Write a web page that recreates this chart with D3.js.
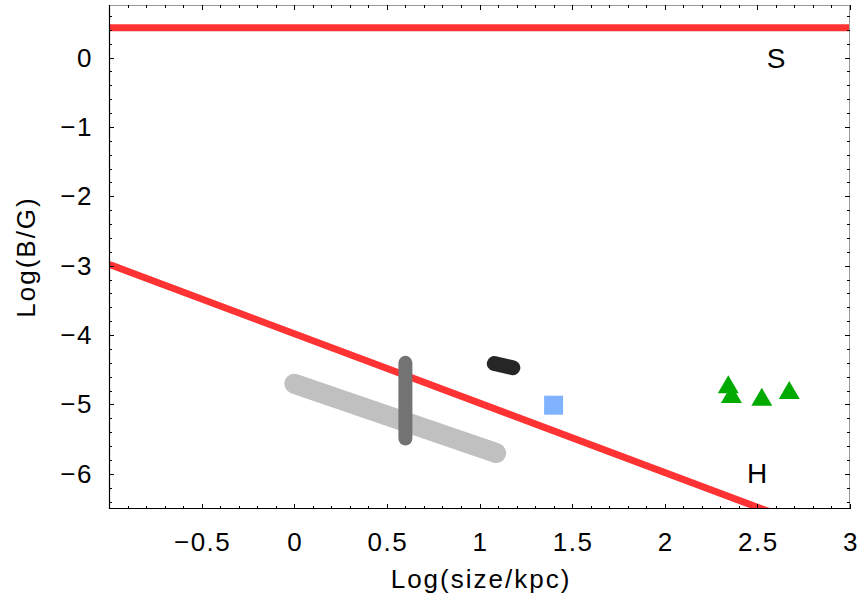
<!DOCTYPE html>
<html><head><meta charset="utf-8">
<script src="https://cdn.jsdelivr.net/npm/d3@7"></script>
<style>
html,body{margin:0;padding:0;background:#fff;}
text{font-family:"Liberation Sans",Arial,Helvetica,sans-serif;fill:#000;}
</style></head>
<body>
<svg id="c" width="864" height="604"></svg>
<script>
// ---- data ----
const xMajorTicks = [-0.5, 0, 0.5, 1, 1.5, 2, 2.5, 3];
const xTickLabels = ["\u22120.5", "0", "0.5", "1", "1.5", "2", "2.5", "3"];
const yMajorTicks = [0, -1, -2, -3, -4, -5, -6];
const yTickLabels = ["0", "\u22121", "\u22122", "\u22123", "\u22124", "\u22125", "\u22126"];
const sLineX = [-1, 3];
const sLineY = [0.43, 0.43];
const hLineX = [-0.99, 2.56];
const hLineY = [-2.99, -6.54];
const bandX = [0.0, 1.09];
const bandY = [-4.70, -5.70];
const barX = [0.60, 0.60];
const barY = [-4.40, -5.49];
const blackX = [1.08, 1.18];
const blackY = [-4.41, -4.47];
const squareX = [1.40];
const squareY = [-5.01];
const triX = [2.343, 2.36, 2.524, 2.672];
const triY = [-4.71, -4.85, -4.89, -4.79];
const labelS = {t: "S"};
const labelH = {t: "H"};

// ---- layout ----
const L = 109, R = 850, T = 5, B = 509;
const x = d3.scaleLinear().domain([-1, 3]).range([L, R]);
const y = d3.scaleLinear().domain([-6.506, 0.757]).range([B, T]);
const svg = d3.select("#c");

svg.append("defs").append("clipPath").attr("id", "clip")
  .append("rect").attr("x", L).attr("y", T).attr("width", R - L).attr("height", B - T);

const plot = svg.append("g").attr("clip-path", "url(#clip)");
const line = d3.line().x(d => x(d[0])).y(d => y(d[1]));
const pairs = (a, b) => a.map((v, i) => [v, b[i]]);

plot.append("path").attr("d", line(pairs(sLineX, sLineY)))
  .attr("stroke", "#ff3333").attr("stroke-width", 7).attr("fill", "none");
plot.append("path").attr("d", line(pairs(hLineX, hLineY)))
  .attr("stroke", "#ff3333").attr("stroke-width", 7).attr("fill", "none").attr("stroke-linecap", "round");
plot.append("path").attr("d", line(pairs(bandX, bandY)))
  .attr("stroke", "#c0c0c0").attr("stroke-width", 20).attr("fill", "none").attr("stroke-linecap", "round");
plot.append("path").attr("d", line(pairs(barX, barY)))
  .attr("stroke", "#737373").attr("stroke-width", 14).attr("fill", "none").attr("stroke-linecap", "round");
plot.append("path").attr("d", line(pairs(blackX, blackY)))
  .attr("stroke", "#262626").attr("stroke-width", 15).attr("fill", "none").attr("stroke-linecap", "round");
plot.selectAll("rect.sq").data(pairs(squareX, squareY)).enter().append("rect")
  .attr("x", d => x(d[0]) - 9.5).attr("y", d => y(d[1]) - 9.5)
  .attr("width", 19).attr("height", 19).attr("fill", "#80b3ff");
plot.selectAll("path.tri").data(pairs(triX, triY)).enter().append("path")
  .attr("d", "M0,-9L10.5,9L-10.5,9Z")
  .attr("transform", d => `translate(${x(d[0])},${y(d[1])})`)
  .attr("fill", "#00aa00");

// ---- frame & ticks ----
const fr = svg.append("g");
fr.append("line").attr("x1", L).attr("x2", R).attr("y1", T + 0.5).attr("y2", T + 0.5).attr("stroke", "#999").attr("stroke-width", 1);
fr.append("line").attr("x1", R - 0.5).attr("x2", R - 0.5).attr("y1", T).attr("y2", B).attr("stroke", "#999").attr("stroke-width", 1);
fr.append("line").attr("x1", L).attr("x2", R).attr("y1", B - 0.5).attr("y2", B - 0.5).attr("stroke", "#000").attr("stroke-width", 1.2);
fr.append("line").attr("x1", L + 0.5).attr("x2", L + 0.5).attr("y1", T).attr("y2", B).attr("stroke", "#000").attr("stroke-width", 1.2);

const xMinor = d3.range(-9, 30).map(i => i / 10).filter(v => Math.abs(v * 2 - Math.round(v * 2)) > 1e-6);
const yMinor = d3.range(-32, 4).map(i => i / 5).filter(v => Math.abs(v - Math.round(v)) > 1e-6);

function xt(vals, len) {
  vals.forEach(v => {
    const px = Math.round(x(v)) + 0.5;
    fr.append("line").attr("x1", px).attr("x2", px).attr("y1", B).attr("y2", B - len).attr("stroke", "#000");
    fr.append("line").attr("x1", px).attr("x2", px).attr("y1", T).attr("y2", T + len).attr("stroke", "#000");
  });
}
function yt(vals, len) {
  vals.forEach(v => {
    const py = Math.round(y(v)) + 0.5;
    fr.append("line").attr("x1", L).attr("x2", L + len).attr("y1", py).attr("y2", py).attr("stroke", "#000");
    fr.append("line").attr("x1", R).attr("x2", R - len).attr("y1", py).attr("y2", py).attr("stroke", "#000");
  });
}
xt(xMajorTicks, 5); xt(xMinor, 3);
yt(yMajorTicks, 5); yt(yMinor, 3);

const fs = 26, ls = "1.5px";
svg.selectAll("text.xl").data(xMajorTicks).enter().append("text")
  .attr("x", (d) => x(d) + 1).attr("y", 551).attr("text-anchor", "middle")
  .attr("font-size", fs).attr("letter-spacing", ls).text((d, i) => xTickLabels[i]);
svg.selectAll("text.yl").data(yMajorTicks).enter().append("text")
  .attr("x", 93).attr("y", d => y(d) + 9).attr("text-anchor", "end")
  .attr("font-size", fs).attr("letter-spacing", ls).text((d, i) => yTickLabels[i]);

svg.append("text").attr("x", 481).attr("y", 588).attr("text-anchor", "middle")
  .attr("font-size", fs).attr("letter-spacing", "2px").text("Log(size/kpc)");
svg.append("text").attr("transform", "translate(35,257) rotate(-90)").attr("text-anchor", "middle")
  .attr("font-size", fs).attr("letter-spacing", "2px").text("Log(B/G)");

svg.append("text").attr("x", 776).attr("y", 68).attr("text-anchor", "middle")
  .attr("font-size", 28).text(labelS.t);
svg.append("text").attr("x", 757).attr("y", 483).attr("text-anchor", "middle")
  .attr("font-size", 28).text(labelH.t);
</script>
</body></html>
